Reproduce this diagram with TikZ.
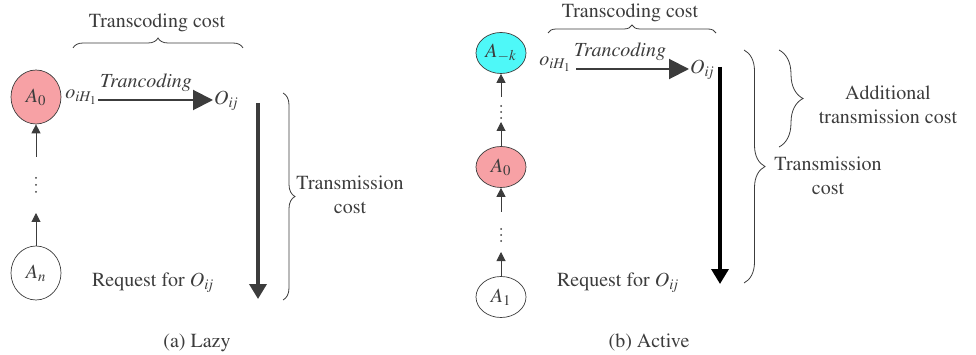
\documentclass[tikz,border=0pt]{standalone}
\usepackage[T1]{fontenc}
\usepackage{mathptmx}
\usetikzlibrary{shapes.geometric,arrows.meta,decorations.pathreplacing}
\definecolor{txt}{HTML}{3C3C3C}
\definecolor{pinkfill}{HTML}{F7A1A5}
\definecolor{cyanfill}{HTML}{4EF8F8}
\newcommand\Oij{O_{i\mkern-2mu j}}
\tikzset{
  agent/.style={ellipse,draw=txt,line width=0.7pt,inner sep=0pt,text=txt,font=\fontsize{20}{24}\selectfont},
  lbl/.style={text=txt,inner sep=1pt,font=\fontsize{20}{24}\selectfont},
  smallarr/.style={draw=txt,line width=1pt,-{Triangle[length=9pt,width=9pt]}},
  transarr/.style={draw=txt,line width=2pt,-{Triangle[length=20pt,width=20pt]}},
  downarr/.style={line width=3.5pt,-{Triangle[length=15pt,width=17pt]}},
  brc/.style={draw=txt,line width=0.8pt,decorate,decoration={brace,amplitude=#1}},
  dotstyle/.style={circle,fill=txt,inner sep=0pt,minimum size=2pt}
}
\begin{document}
\begin{tikzpicture}[x=1pt,y=-1pt]
\useasboundingbox (0,0) rectangle (976,355);
% ---------- (a) Lazy ----------
\node[agent,fill=pinkfill,minimum width=50pt,minimum height=54pt] (a0) at (36,97) {$A_0$};
\node[agent,fill=white,minimum width=50pt,minimum height=54pt] (an) at (36,273) {$A_n$};
\coordinate (la1) at (36,213);
\coordinate (la2) at (36,157);
\draw[smallarr] (an.north) -- (la1);
\draw[smallarr] (la2) -- (a0.south);
\node[dotstyle] (ld1) at (36,178) {};
\node[dotstyle] (ld2) at (36,185) {};
\node[dotstyle] (ld3) at (36,192) {};
\node[lbl,anchor=east] (loi) at (98,97) {$o_{iH_1}$};
\node[lbl,anchor=west] (loij) at (213,101) {$\Oij$};
\draw[transarr] (loi.east |- 0,100) -- (loij.west |- 0,100);
\node[lbl] (ltr) at (146,83) {\textit{Trancoding}};
\node[lbl] (ltc) at (157,23) {Transcoding cost};
\coordinate (lb1) at (73,48);
\coordinate (lb2) at (243,48);
\draw[brc=10pt] (lb1) -- (lb2);
\coordinate (lv1) at (258,103);
\coordinate (lv2) at (258,299);
\draw[downarr,draw=txt] (lv1) -- (lv2);
\coordinate (lt1) at (283,93);
\coordinate (lt2) at (283,300);
\draw[brc=12pt] (lt1) -- (lt2);
\node[lbl,align=center] (ltm) at (350,195) {Transmission\\cost};
\node[lbl] (lreq) at (153,283) {Request for $\Oij$};
\node[lbl] (lcap) at (197,343) {(a) Lazy};
% ---------- (b) Active ----------
\node[agent,fill=cyanfill,minimum width=50pt,minimum height=41pt] (ak) at (501,53) {$A_{-k}$};
\node[agent,fill=pinkfill,minimum width=50pt,minimum height=41pt] (b0) at (501,167) {$A_0$};
\node[agent,fill=white,minimum width=50pt,minimum height=41pt] (b1) at (501,297) {$A_1$};
\coordinate (ra1) at (501,122);
\coordinate (ra2) at (501,97);
\coordinate (ra3) at (501,252);
\coordinate (ra4) at (501,212);
\draw[smallarr] (b0.north) -- (ra1);
\draw[smallarr] (ra2) -- (ak.south);
\draw[smallarr] (b1.north) -- (ra3);
\draw[smallarr] (ra4) -- (b0.south);
\node[dotstyle] (rd1) at (501,106) {};
\node[dotstyle] (rd2) at (501,112) {};
\node[dotstyle] (rd3) at (501,118) {};
\node[dotstyle] (rd4) at (501,229) {};
\node[dotstyle] (rd5) at (501,235) {};
\node[dotstyle] (rd6) at (501,241) {};
\node[lbl,anchor=east] (roi) at (572,64) {$o_{iH_1}$};
\coordinate (rs) at (576,69);
\node[lbl,anchor=west] (roij) at (689,70) {$\Oij$};
\draw[transarr] (rs) -- (roij.west |- rs);
\node[lbl] (rtr) at (620,52) {\textit{Trancoding}};
\node[lbl] (rtc) at (630,13) {Transcoding cost};
\coordinate (rb1) at (548,33);
\coordinate (rb2) at (716,33);
\draw[brc=8pt] (rb1) -- (rb2);
\coordinate (rv1) at (720,67);
\coordinate (rv2) at (720,284);
\draw[downarr,draw=black] (rv1) -- (rv2);
\coordinate (rt1) at (744,50);
\coordinate (rt2) at (744,283);
\draw[brc=21pt] (rt1) -- (rt2);
\coordinate (rs1) at (779,50);
\coordinate (rs2) at (779,147);
\draw[brc=24pt] (rs1) -- (rs2);
\node[lbl,align=center] (radd) at (888,105) {Additional\\transmission cost};
\node[lbl,align=center] (rtm) at (828,176) {Transmission\\cost};
\node[lbl] (rreq) at (618,283) {Request for $\Oij$};
\node[lbl] (rcap) at (649,343) {(b) Active};
\end{tikzpicture}
\end{document}
